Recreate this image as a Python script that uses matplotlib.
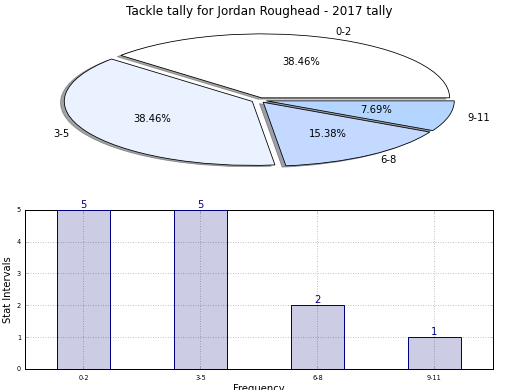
import matplotlib
matplotlib.use("Agg")
import matplotlib.pyplot as plt

categories = ["0-2", "3-5", "6-8", "9-11"]
counts = [5, 5, 2, 1]
pie_colors = ["#ffffff", "#eaf1ff", "#c4d9ff", "#b4d5ff"]
explode = [0.04, 0.04, 0.04, 0.04]
title = "Tackle tally for Jordan Roughead - 2017 tally"

fig = plt.figure(figsize=(520 / 72, 390 / 72), dpi=72)
fig.patch.set_facecolor("white")

ax1 = fig.add_axes([0.046, 0.538, 0.904, 0.410])
wedges, texts, autotexts = ax1.pie(
    counts, labels=categories, colors=pie_colors, explode=explode,
    autopct="%.2f%%", shadow=True, startangle=0,
    wedgeprops=dict(edgecolor="black", linewidth=0.8),
    textprops=dict(fontsize=10, color="black"))
ax1.set_aspect("auto")
ax1.set_xlim(-1.25, 1.25)
ax1.set_ylim(-1.25, 1.25)
ax1.set_title(title, fontsize=12, pad=5)

ax2 = fig.add_axes([0.048, 0.054, 0.900, 0.408])
x = list(range(len(categories)))
ax2.bar(x, counts, width=0.45, color="navy", alpha=0.2, zorder=2)
ax2.bar(x, counts, width=0.45, facecolor="none", edgecolor="navy",
        linewidth=1.0, zorder=3)
for xi, c in zip(x, counts):
    ax2.text(xi, c, str(c), ha="center", va="bottom", color="navy",
             fontsize=10, zorder=4)
ax2.set_xlim(-0.5, 3.5)
ax2.set_ylim(0, 5)
ax2.set_xticks(x)
ax2.set_xticklabels(categories)
ax2.set_yticks(range(0, 6))
ax2.tick_params(axis="both", direction="in", labelsize=6.5, length=3,
                top=True, right=True, color="#bbbbbb", pad=6)
ax2.tick_params(axis="y", pad=4)
ax2.grid(True, linestyle=(0, (1, 1.5)), color="#c4c4c4", linewidth=1.0, zorder=1)
ax2.set_axisbelow(True)
ax2.set_ylabel("Stat Intervals", fontsize=10, labelpad=4)
ax2.set_xlabel("Frequency", fontsize=10, labelpad=3)
for s in ax2.spines.values():
    s.set_color("black")
    s.set_linewidth(1.0)

fig.savefig("out.png", dpi=72, facecolor="white")
